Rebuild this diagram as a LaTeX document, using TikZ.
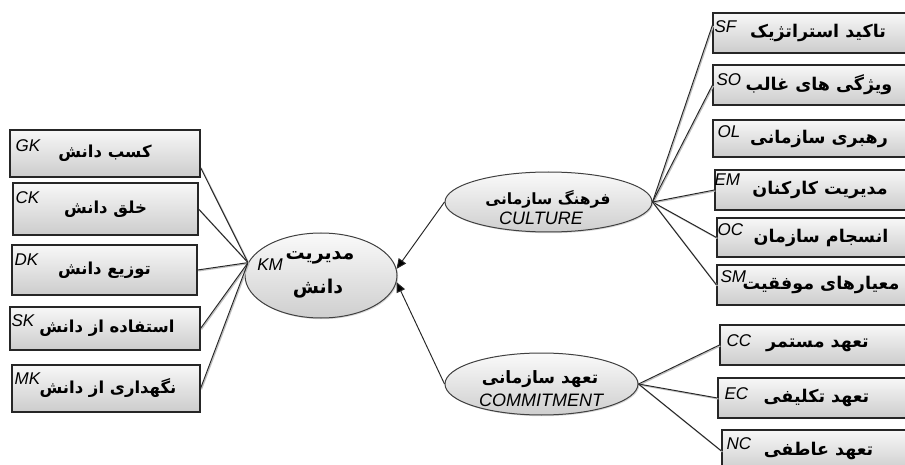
\documentclass[tikz,border=0pt]{standalone}
\usepackage{fontspec}
\setmainfont{Liberation Sans}
\newfontfamily\fa[Script=Arabic]{DejaVu Sans}
\TeXXeTstate=1
\usetikzlibrary{shapes.geometric,arrows.meta,shadows}
\newcommand\fat[1]{{\fa\bfseries\beginR #1\endR}}
\begin{document}
\begin{tikzpicture}[x=1pt,y=-1pt,
  box/.style={rectangle, draw=black!85, line width=1.1pt, top color=gray!6, bottom color=gray!40,
    inner sep=0pt,
    drop shadow={shadow xshift=1.2pt, shadow yshift=-1.2pt, fill=black!35, opacity=0.6}},
  lbox/.style={box, font=\fa\bfseries\fontsize{16.5}{18}\selectfont},
  rbox/.style={box, font=\fa\bfseries\fontsize{17.5}{20}\selectfont},
  oval/.style={ellipse, draw=black!75, line width=1pt, top color=gray!4, bottom color=gray!38,
    inner sep=0pt,
    drop shadow={shadow xshift=1.2pt, shadow yshift=-1.2pt, fill=black!30, opacity=0.5}},
  tag/.style={font=\itshape\fontsize{17}{17}\selectfont, inner sep=0pt, anchor=north west},
  txt/.style={inner sep=0pt},
  conn/.style={draw=black!85, line width=0.95pt,
    preaction={draw=black!25, line width=1.3pt, transform canvas={xshift=0.9pt,yshift=-0.9pt}}},
  arr/.style={draw=black!85, line width=0.95pt, -{Triangle[length=10pt,width=9pt,fill=black]}}
]
\clip (0,0) rectangle (905,465);
\fill[white] (0,0) rectangle (905,465);

% left boxes
\node[lbox, minimum width=190pt, minimum height=47pt] (gk) at (105,153.5) {\raisebox{-2pt}{\fat{کسب دانش}}};
\node[lbox, minimum width=185pt, minimum height=52pt] (ck) at (105.5,209) {\raisebox{-2pt}{\fat{خلق دانش}}};
\node[lbox, minimum width=185pt, minimum height=50pt] (dk) at (104.5,270) {\raisebox{-2pt}{\fat{توزیع دانش}}};
\node[lbox, minimum width=190pt, minimum height=43pt] (sk) at (105,328.5) {\hspace*{4pt}\raisebox{-2pt}{\fat{استفاده از دانش}}};
\node[lbox, minimum width=188pt, minimum height=47pt] (mk) at (106,388.5) {\hspace*{4pt}\raisebox{-2pt}{\fat{نگهداری از دانش}}};
\node[tag] (gkt) at ([xshift=6pt,yshift=-10pt]gk.north west) {GK};
\node[tag] (ckt) at ([xshift=3pt,yshift=-9pt]ck.north west) {CK};
\node[tag] (dkt) at ([xshift=3pt,yshift=-9pt]dk.north west) {DK};
\node[tag] (skt) at ([xshift=2pt,yshift=-8pt]sk.north west) {SK};
\node[tag] (mkt) at ([xshift=3pt,yshift=-8pt]mk.north west) {MK};

% right boxes
\node[rbox, minimum width=202pt, minimum height=40pt] (sf) at (814,33) {\hspace*{8pt}\fat{تاکید استراتژیک}};
\node[rbox, minimum width=202pt, minimum height=40pt] (so) at (814,85) {\hspace*{10pt}\fat{ویژگی های غالب}};
\node[rbox, minimum width=202pt, minimum height=37pt] (ol) at (814,138.5) {\hspace*{10pt}\fat{رهبری سازمانی}};
\node[rbox, minimum width=200pt, minimum height=40pt] (em) at (815,190) {\hspace*{10pt}\fat{مدیریت کارکنان}};
\node[rbox, minimum width=198pt, minimum height=39pt] (oc) at (816,237.5) {\hspace*{10pt}\fat{انسجام سازمان}};
\node[rbox, minimum width=198pt, minimum height=40pt] (sm) at (816,285) {\hspace*{10pt}\fat{معیارهای موفقیت}};
\node[rbox, minimum width=195pt, minimum height=40pt] (cc) at (817.5,345) {\fat{تعهد مستمر}};
\node[rbox, minimum width=197pt, minimum height=40pt] (ec) at (816.5,398) {\fat{تعهد تکلیفی}};
\node[rbox, minimum width=193pt, minimum height=42pt] (nc) at (818.5,451) {\fat{تعهد عاطفی}};
\node[tag] (sft) at ([xshift=2pt,yshift=-8pt]sf.north west) {SF};
\node[tag] (sot) at ([xshift=4pt,yshift=-9pt]so.north west) {SO};
\node[tag] (olt) at ([xshift=5pt,yshift=-6pt]ol.north west) {OL};
\node[tag] (emt) at ([xshift=0pt,yshift=-4pt]em.north west) {EM};
\node[tag] (oct) at ([xshift=1pt,yshift=-6pt]oc.north west) {OC};
\node[tag] (smt) at ([xshift=4pt,yshift=-6pt]sm.north west) {SM};
\node[tag] (cct) at ([xshift=7pt,yshift=-10pt]cc.north west) {CC};
\node[tag] (ect) at ([xshift=7pt,yshift=-10pt]ec.north west) {EC};
\node[tag] (nct) at ([xshift=5pt,yshift=-8pt]nc.north west) {NC};

% ellipses
\node[oval, minimum width=152pt, minimum height=85pt] (km) at (321,275.5) {};
\node[txt, font=\fa\bfseries\fontsize{19}{20}\selectfont] (kmp1) at (320,258) {\fat{مدیریت}};
\node[txt, font=\fa\bfseries\fontsize{19}{20}\selectfont] (kmp2) at (318,289) {\fat{دانش}};
\node[txt, font=\itshape\fontsize{17}{17}\selectfont] (kmt) at (270,265) {KM};

\node[oval, minimum width=207pt, minimum height=60pt] (cu) at (548.5,202) {};
\node[txt, font=\fa\bfseries\fontsize{15.5}{17}\selectfont] (cup) at (548,199) {\fat{فرهنگ سازمانی}};
\node[txt, font=\itshape\fontsize{18}{18}\selectfont] (cut) at (541,218) {CULTURE};

\node[oval, minimum width=193pt, minimum height=62pt] (co) at (541.5,384) {};
\node[txt, font=\fa\bfseries\fontsize{17}{18}\selectfont] (cop) at (540,379) {\fat{تعهد سازمانی}};
\node[txt, font=\itshape\fontsize{18}{18}\selectfont] (cot) at (541,400) {COMMITMENT};

% connectors
\foreach \b in {ck,dk,sk,mk} \draw[conn] (\b.east) -- (km.170);
\draw[conn] ([yshift=-14pt]gk.east) -- (km.170);
\draw[arr] (cu.west) -- (km.5);
\draw[arr] (co.west) -- (km.-5);
\draw[conn] (cu.east) -- ([yshift=8pt]sf.west);
\foreach \b in {so,em,oc,sm} \draw[conn] (cu.east) -- (\b.west);
\foreach \b in {cc,ec,nc} \draw[conn] (co.east) -- (\b.west);
\end{tikzpicture}
\end{document}
